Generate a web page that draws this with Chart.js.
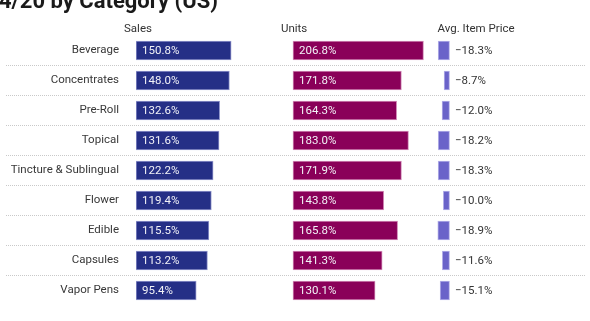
<!DOCTYPE html>
<html>
<head>
<meta charset="utf-8">
<script src="https://cdn.jsdelivr.net/npm/chart.js@4"></script>
<style>
  html, body { margin: 0; padding: 0; background: #fff; overflow: hidden; }
  #wrap { position: relative; width: 590px; height: 321px; }
</style>
</head>
<body>
<div id="wrap"><canvas id="cat" width="590" height="321"></canvas></div>
<script>
// --- data ---
var categories = ['Beverage', 'Concentrates', 'Pre-Roll', 'Topical', 'Tincture & Sublingual',
                  'Flower', 'Edible', 'Capsules', 'Vapor Pens'];
var salesPct = [150.8, 148.0, 132.6, 131.6, 122.2, 119.4, 115.5, 113.2, 95.4];
var unitsPct = [206.8, 171.8, 164.3, 183.0, 171.9, 143.8, 165.8, 141.3, 130.1];
var avgPricePct = [-18.3, -8.7, -12.0, -18.2, -18.3, -10.0, -18.9, -11.6, -15.1];
var columnTitles = ['Sales', 'Units', 'Avg. Item Price'];
var chartTitle = '4/20 by Category (US)';

// --- layout: three columns share one plot area, each on its own hidden x scale ---
var FONT = 'Roboto';
var SMALL = 11.5;
var LABEL_W = 136;          // category label gutter
var PLOT_W = 590 - LABEL_W;
var PX_PER_PCT = 0.631;     // sales + units
var AVG_PX_PER_PCT = 0.62;  // avg item price
var UNITS_ZERO = 157;       // px from plot left
var AVG_ZERO = 313.5;

function fmtPct(v) {
  return (v < 0 ? '\u2212' : '') + Math.abs(v).toFixed(1) + '%';
}

// dotted separators, column heads, title and value labels
var decor = {
  id: 'decor',
  beforeDatasetsDraw: function (chart) {
    var ctx = chart.ctx, y = chart.scales.y;
    ctx.save();
    ctx.strokeStyle = '#c9c9c9';
    ctx.lineWidth = 1;
    ctx.setLineDash([1, 1]);
    for (var i = 0; i < categories.length - 1; i++) {
      var py = Math.floor((y.getPixelForTick(i) + y.getPixelForTick(i + 1)) / 2) + 0.5;
      ctx.beginPath(); ctx.moveTo(6, py); ctx.lineTo(586, py); ctx.stroke();
    }
    ctx.restore();
  },
  afterDatasetsDraw: function (chart) {
    var ctx = chart.ctx;
    ctx.save();
    ctx.font = SMALL + 'px ' + FONT;
    ctx.textBaseline = 'middle';
    ctx.textAlign = 'left';
    chart.data.datasets.forEach(function (ds, di) {
      var meta = chart.getDatasetMeta(di);
      meta.data.forEach(function (bar, i) {
        var v = ds.data[i];
        if (v < 0) {
          ctx.fillStyle = '#333';
          ctx.fillText(fmtPct(v), bar.base + 5.5, bar.y + 0.5);
        } else {
          ctx.fillStyle = '#f2f2f7';
          ctx.fillText(fmtPct(v), bar.base + 6, bar.y + 0.5);
        }
      });
    });

    // column heads sit 12px left of each column's zero line
    ['xs', 'xu', 'xa'].forEach(function (id, k) {
      ctx.fillStyle = '#333';
      ctx.fillText(columnTitles[k], chart.scales[id].getPixelForValue(0) - 12, 29.5);
    });

    ctx.font = 'bold 22px ' + FONT;
    ctx.fillStyle = '#1a1a1a';
    ctx.textBaseline = 'alphabetic';
    ctx.fillText(chartTitle, -1, 7.5);
    ctx.restore();
  }
};

function barSet(data, axis, fill, edge) {
  return {
    data: data, xAxisID: axis,
    backgroundColor: fill, borderColor: edge, borderWidth: 1,
    borderSkipped: false, grouped: false, barThickness: 19
  };
}

new Chart(document.getElementById('cat'), {
  type: 'bar',
  data: {
    labels: categories,
    datasets: [
      barSet(salesPct, 'xs', '#252f86', '#9297cc'),
      barSet(unitsPct, 'xu', '#8a0059', '#d28cb8'),
      barSet(avgPricePct, 'xa', '#6a63c9', '#b4b0e8')
    ]
  },
  options: {
    indexAxis: 'y',
    responsive: false,
    animation: false,
    events: [],
    layout: { padding: { top: 35.5, bottom: 15.5, left: 0, right: 0 } },
    plugins: { legend: { display: false }, tooltip: { enabled: false } },
    scales: {
      y: {
        // tick marks are hidden but their length sets the label gap
        grid: { display: false, drawTicks: true, tickLength: 17 },
        border: { display: false },
        ticks: { color: '#383838', font: { family: FONT, size: SMALL }, padding: 0 },
        afterFit: function (s) { s.width = LABEL_W; }
      },
      xs: { type: 'linear', display: false, min: 0, max: PLOT_W / PX_PER_PCT },
      xu: { type: 'linear', display: false,
            min: -UNITS_ZERO / PX_PER_PCT, max: (PLOT_W - UNITS_ZERO) / PX_PER_PCT },
      xa: { type: 'linear', display: false,
            min: -AVG_ZERO / AVG_PX_PER_PCT, max: (PLOT_W - AVG_ZERO) / AVG_PX_PER_PCT }
    }
  },
  plugins: [decor]
});
</script>
</body>
</html>
